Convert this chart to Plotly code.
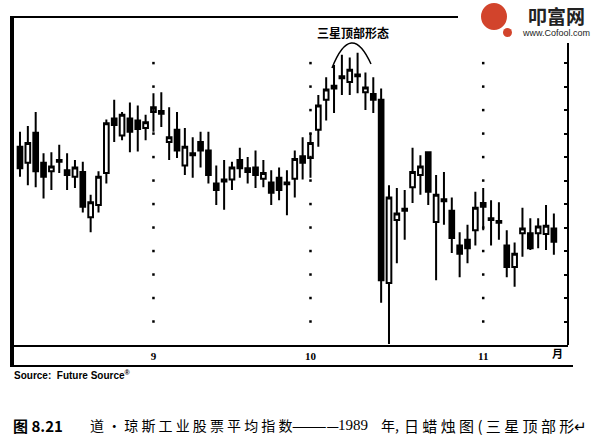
import plotly.graph_objects as go

# ---------------- data (Dow Jones Industrial Average, daily, Aug 9 - Nov 14, 1989) -------------
day_index = list(range(69))
opens = [2711, 2694, 2726, 2694, 2685, 2697, 2686, 2679, 2684, 2636,
         2649, 2683, 2741, 2723, 2741, 2739, 2731, 2748, 2749, 2716,
         2729, 2691, 2704, 2716, 2707, 2672, 2676, 2676, 2697, 2688,
         2689, 2677, 2673, 2678, 2673, 2677, 2701, 2699, 2729, 2761,
         2776, 2786, 2780, 2788, 2769, 2767, 2761, 2566, 2633, 2645,
         2668, 2681, 2705, 2631, 2655, 2643, 2606, 2612, 2622, 2651,
         2635, 2632, 2606, 2583, 2619, 2619, 2619, 2618, 2624]
highs = [2727, 2733, 2748, 2704, 2705, 2713, 2704, 2697, 2695, 2660,
         2685, 2740, 2761, 2748, 2758, 2755, 2745, 2768, 2769, 2753,
         2748, 2731, 2721, 2727, 2727, 2691, 2697, 2695, 2710, 2700,
         2707, 2697, 2686, 2689, 2686, 2707, 2721, 2726, 2766, 2785,
         2798, 2809, 2806, 2811, 2790, 2785, 2773, 2670, 2667, 2665,
         2710, 2702, 2705, 2681, 2684, 2657, 2620, 2628, 2663, 2667,
         2654, 2652, 2622, 2609, 2646, 2635, 2635, 2649, 2640]
lows = [2679, 2670, 2668, 2656, 2665, 2683, 2665, 2667, 2641, 2620,
        2641, 2672, 2716, 2718, 2705, 2706, 2718, 2727, 2732, 2697,
        2699, 2681, 2678, 2689, 2672, 2649, 2644, 2665, 2678, 2672,
        2667, 2668, 2649, 2654, 2638, 2657, 2676, 2678, 2711, 2739,
        2747, 2766, 2766, 2768, 2750, 2747, 2545, 2501, 2587, 2612,
        2651, 2660, 2649, 2569, 2628, 2598, 2572, 2587, 2606, 2622,
        2606, 2612, 2572, 2562, 2594, 2601, 2603, 2601, 2596]
closes = [2688, 2715, 2685, 2679, 2690, 2695, 2681, 2689, 2647, 2652,
          2679, 2736, 2734, 2745, 2727, 2730, 2737, 2753, 2746, 2721,
          2707, 2711, 2702, 2707, 2681, 2665, 2674, 2689, 2688, 2684,
          2681, 2683, 2662, 2665, 2671, 2698, 2694, 2715, 2755, 2772,
          2773, 2784, 2793, 2786, 2774, 2761, 2569, 2657, 2640, 2643,
          2684, 2690, 2663, 2660, 2653, 2614, 2597, 2603, 2646, 2647,
          2633, 2630, 2583, 2597, 2624, 2603, 2626, 2627, 2610]

month_ticks = [17, 37, 59]          # first trading day of Sep, Oct, Nov
month_labels = ["9", "10", "11"]
price_ticks = list(range(2525, 2825, 25))

# ---------------- geometry helpers (layout only) ----------------
W, H = 600, 442
L, R, T, B = 13, 568, 18, 345


def px(x):
    return (x - L) / (R - L)


def py(y):
    return (B - y) / (B - T)


fig = go.Figure()

# dotted month grid lines: one dot per price tick level
grid_x = [m for m in month_ticks for _ in price_ticks]
grid_y = [p for _ in month_ticks for p in price_ticks]
fig.add_trace(go.Scatter(
    x=grid_x, y=grid_y, mode="markers",
    marker=dict(symbol="square", size=2.5, color="black"),
    hoverinfo="skip", showlegend=False))

fig.add_trace(go.Candlestick(
    x=day_index, open=opens, high=highs, low=lows, close=closes,
    increasing=dict(fillcolor="white", line=dict(color="black", width=2)),
    decreasing=dict(fillcolor="black", line=dict(color="black", width=2)),
    whiskerwidth=0, showlegend=False))

shapes = [
    # thick left frame
    dict(type="line", xref="paper", yref="paper", x0=px(12), x1=px(12), y0=py(16), y1=py(367),
         line=dict(color="black", width=4)),
    # top frame (interrupted by the logo)
    dict(type="line", xref="paper", yref="paper", x0=px(12), x1=px(458), y0=py(17), y1=py(17),
         line=dict(color="black", width=2)),
    # right frame
    dict(type="line", xref="paper", yref="paper", x0=px(568), x1=px(568), y0=py(43), y1=py(345),
         line=dict(color="black", width=2)),
    # outer bottom frame
    dict(type="line", xref="paper", yref="paper", x0=px(12), x1=px(573), y0=py(366), y1=py(366),
         line=dict(color="black", width=2)),
    # arc over the three stars
    dict(type="path", xref="paper", yref="paper",
         path=f"M {px(332)},{py(68)} Q {px(351)},{py(20)} {px(371)},{py(64)}",
         line=dict(color="black", width=1.5)),
    # logo mark
    dict(type="circle", xref="paper", yref="paper", x0=px(481), x1=px(507), y0=py(30), y1=py(3),
         fillcolor="#d2442c", line=dict(color="#d2442c", width=0)),
    dict(type="circle", xref="paper", yref="paper", x0=px(503), x1=px(512), y0=py(37), y1=py(28),
         fillcolor="#d2442c", line=dict(color="#d2442c", width=0)),
]


def note(text, x, y, size, family="Noto Sans CJK SC", weight="normal", xanchor="center", color="black"):
    return dict(text=text, x=px(x), y=py(y), xref="paper", yref="paper",
                xanchor=xanchor, yanchor="middle", showarrow=False,
                font=dict(size=size, color=color, family=family, weight=weight))


annotations = [
    note("三星顶部形态", 353, 33, 12, weight="bold"),
    note("月", 557, 353, 11, weight="bold"),
    note("Source:  Future Source<sup>®</sup>", 12, 375, 10, family="Liberation Sans",
         weight="bold", xanchor="left"),
    note("图 8.21", 11, 425, 15, weight="bold", xanchor="left"),
    note("道 ・ 琼 斯 工 业 股 票 平 均 指 数", 88, 425, 14, xanchor="left"),
    note("————", 290, 425, 14, xanchor="left"),
    note("1989", 336, 425, 15, family="Liberation Serif", xanchor="left"),
    note("年,", 379, 425, 14, xanchor="left"),
    note("日 蜡 烛 图 ( 三 星 顶 部 形↵", 402, 425, 15, xanchor="left"),
    note("叩富网", 556, 16, 19, weight="bold", color="#222222"),
    note("www.Cofool.com", 556, 33, 9, family="Liberation Sans", color="#222222"),
]

fig.update_layout(
    width=W, height=H,
    margin=dict(l=L, r=W - R, t=T, b=H - B),
    paper_bgcolor="white", plot_bgcolor="white",
    shapes=shapes, annotations=annotations,
    showlegend=False, boxgap=0.15,
    xaxis=dict(range=[-0.89, 69.8], rangeslider=dict(visible=False),
               showgrid=False, zeroline=False,
               showline=True, linecolor="black", linewidth=2,
               tickmode="array", tickvals=month_ticks, ticktext=month_labels,
               ticks="", tickfont=dict(family="Liberation Serif", size=11, color="black", weight="bold")),
    yaxis=dict(range=[2500, 2848], side="right", showgrid=False, zeroline=False,
               showline=False, tickmode="array", tickvals=price_ticks,
               ticks="inside", ticklen=4, tickwidth=2, tickcolor="black",
               showticklabels=False),
)

fig.write_html("out.html", config={"displayModeBar": False},
               post_script="document.body.style.margin='0px';")
